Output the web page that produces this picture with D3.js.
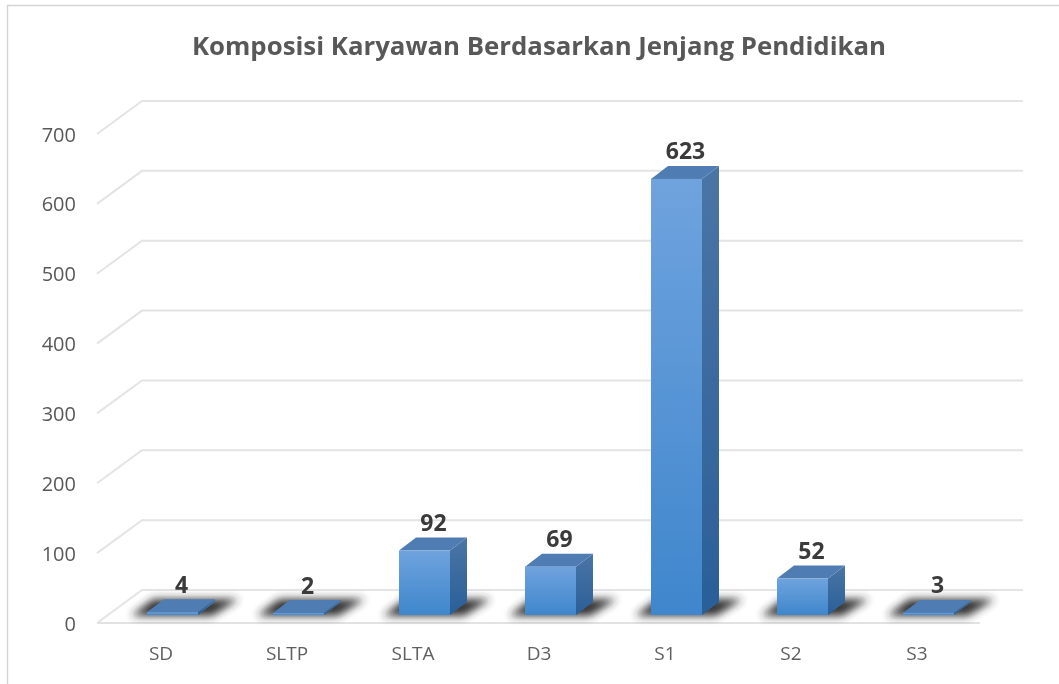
<!DOCTYPE html>
<html><head><meta charset="utf-8">
<script src="https://cdn.jsdelivr.net/npm/d3@7"></script>
<style>html,body{margin:0;background:#fff}svg{display:block}</style></head>
<body><svg id="c" width="1059" height="684"></svg>
<script>
const categories=["SD","SLTP","SLTA","D3","S1","S2","S3"];
const values=[4,2,92,69,623,52,3];
const axisTicks=[0,100,200,300,400,500,600,700];
const title="Komposisi Karyawan Berdasarkan Jenjang Pendidikan";

const FONT="'Open Sans', Carlito, sans-serif";
const svg=d3.select("#c");
const defs=svg.append("defs");
const grad=defs.append("linearGradient").attr("id","front").attr("x1",0).attr("y1",0).attr("x2",0).attr("y2",1);
grad.append("stop").attr("offset","0%").attr("stop-color","#6fa3de");
grad.append("stop").attr("offset","100%").attr("stop-color","#3f86cc");
const sideGrad=defs.append("linearGradient").attr("id","side").attr("x1",0).attr("y1",0).attr("x2",0).attr("y2",1);
sideGrad.append("stop").attr("offset","0%").attr("stop-color","#4a75a6");
sideGrad.append("stop").attr("offset","100%").attr("stop-color","#2a5f98");
const blur=defs.append("filter").attr("id","sh").attr("x","-40%").attr("y","-100%").attr("width","180%").attr("height","300%");
blur.append("feGaussianBlur").attr("stdDeviation",4);
const soft=defs.append("filter").attr("id","soft").attr("filterUnits","userSpaceOnUse")
  .attr("x",0).attr("y",0).attr("width",1059).attr("height",684);
soft.append("feGaussianBlur").attr("stdDeviation",0.45);

const root=svg.append("g").attr("filter","url(#soft)");
// frame: open on the right and bottom, running off the picture
root.append("path").attr("d","M7.5,684V5.5H1059").attr("fill","none").attr("stroke","#d4d4d4").attr("stroke-width",1.4);

const y=d3.scaleLinear().domain([0,700]).range([623,134]);
const depthX=45,depthY=33;
const x0=97,x1=980;
const g=root.append("g");
g.selectAll("path.grid").data(axisTicks).join("path").attr("class","grid")
  .attr("d",d=>`M${x0},${y(d)}L${x0+depthX},${y(d)-depthY}L${x1+depthX-2},${y(d)-depthY}`)
  .attr("fill","none").attr("stroke","#e4e4e4").attr("stroke-width",2);
g.append("path").attr("d",`M${x0},${y(0)}H${x1}`).attr("stroke","#e2e2e2").attr("stroke-width",2);

root.selectAll("text.yt").data(axisTicks).join("text").attr("class","yt")
  .attr("x",76).attr("y",d=>y(d)+7.5).attr("text-anchor","end")
  .attr("font-family",FONT).attr("font-size",20).attr("fill","#595959").text(d=>d);

const band=d3.scaleBand().domain(categories).range([85,85+126*7]).paddingInner(0);
const bw=51,dx=17,dy=13,base=615,py=d3.scaleLinear().domain([0,700]).range([0,490]);
root.selectAll("text.xt").data(categories).join("text").attr("class","xt")
  .attr("x",d=>band(d)+76).attr("y",660).attr("text-anchor","middle")
  .attr("font-family",FONT).attr("font-size",19).attr("fill","#5f5f5f").text(d=>d);

const bars=root.selectAll("g.bar").data(categories.map((c,i)=>({c,v:values[i]}))).join("g").attr("class","bar")
  .attr("transform",d=>`translate(${band(d.c)+62},0)`);
bars.append("path").attr("filter","url(#sh)").attr("fill","#262626").attr("opacity",.95)
  .attr("d",`M-16,${base+1}L6,${base-16}H${bw+dx+24}L${bw+14},${base+1}Z`);
bars.append("path").attr("fill","url(#side)")
  .attr("d",d=>`M${bw},${base-Math.max(py(d.v),2)}l${dx},${-dy}V${base-dy}l${-dx},${dy}Z`);
bars.append("path").attr("fill","#4f7db3")
  .attr("d",d=>`M0,${base-Math.max(py(d.v),2)}l${dx},${-dy}h${bw}l${-dx},${dy}Z`);
bars.append("rect").attr("fill","url(#front)").attr("x",0).attr("width",bw)
  .attr("y",d=>base-Math.max(py(d.v),2)).attr("height",d=>Math.max(py(d.v),2));
bars.append("text").attr("x",bw/2+9).attr("y",d=>base-Math.max(py(d.v),2)-dy-6.5).attr("text-anchor","middle")
  .attr("font-family",FONT).attr("font-weight",700).attr("font-size",23).attr("fill","#3a3a3a").text(d=>d.v);

root.append("text").attr("x",539).attr("y",55).attr("text-anchor","middle")
  .attr("font-family",FONT).attr("font-weight",700).attr("font-size",25.8).attr("fill","#595959").text(title);
</script></body></html>
